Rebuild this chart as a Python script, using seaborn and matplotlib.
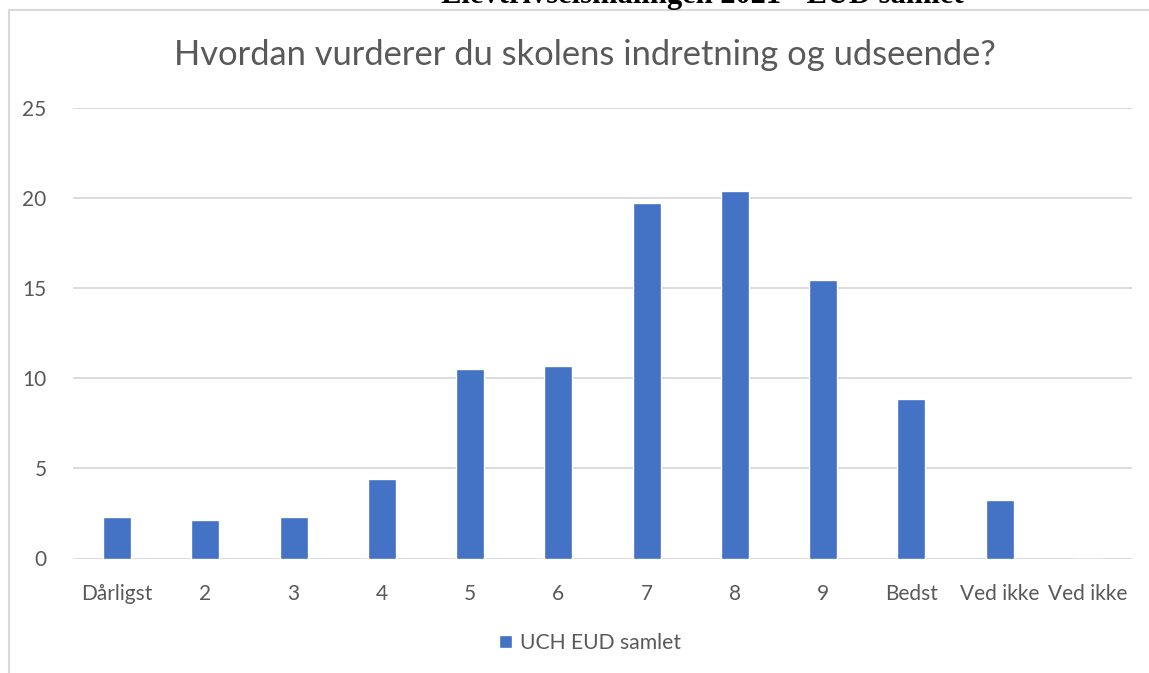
import matplotlib
matplotlib.use("Agg")
import matplotlib.pyplot as plt
from matplotlib.lines import Line2D
import seaborn as sns
import pandas as pd

labels = ["Dårligst", "2", "3", "4", "5", "6", "7", "8", "9", "Bedst", "Ved ikke", "Ved ikke"]
keys = [f"k{i}" for i in range(len(labels))]
values = [2.3, 2.13, 2.3, 4.43, 10.48, 10.65, 19.68, 20.35, 15.42, 8.83, 3.26, 0.0]
series_name = "UCH EUD samlet"
title = "Hvordan vurderer du skolens indretning og udseende?"
doc_header = "Elevtrivselsmålingen 2021 - EUD samlet"
yticks = [0, 5, 10, 15, 20, 25]

sns.set_theme(style="white")
plt.rcParams['font.family'] = ['Lato', 'DejaVu Sans']

df = pd.DataFrame({"key": keys, "value": values, "serie": series_name})

fig = plt.figure(figsize=(11.49, 6.73), dpi=100)
ax = fig.add_axes([73/1149, 1-558.5/673, (1132-73)/1149, (558.5-107.5)/673])

sns.barplot(data=df, x="key", y="value", hue="serie", order=keys,
            palette=["#4472C4"], saturation=1, width=0.317, dodge=False, ax=ax, zorder=3)

ax.set_ylim(0, 25)
ax.set_yticks(yticks)
ax.set_yticklabels([str(t) for t in yticks])
ax.set_xlim(-0.5, len(keys) - 0.5)
ax.set_xticks(range(len(keys)))
ax.set_xticklabels(labels)
ax.set_xlabel("")
ax.set_ylabel("")
for s in ax.spines.values():
    s.set_visible(False)
ax.yaxis.grid(True, color="#D9D9D9", linewidth=1.3, zorder=0)
ax.xaxis.grid(False)
ax.tick_params(axis="both", length=0, labelsize=15, colors="#595959")
ax.tick_params(axis="y", pad=19)
ax.tick_params(axis="x", pad=18)

fig.text(584.5/1149, 1-55/673, title, ha="center", va="center", fontsize=24.8, color="#595959")

sns.move_legend(ax, loc="center", bbox_to_anchor=(590/1149, 1-643/673),
                bbox_transform=fig.transFigure, frameon=False, title=None,
                handlelength=0.6, handleheight=0.6, handletextpad=0.4,
                fontsize=15.2)
for t in ax.get_legend().get_texts():
    t.set_color("#595959")

# chart frame lines
fig.add_artist(Line2D([9/1149, 9/1149], [0, 1-10/673], color="#D9D9D9", lw=1.5, transform=fig.transFigure))
fig.add_artist(Line2D([9/1149, 1], [1-10/673, 1-10/673], color="#D9D9D9", lw=1.5, transform=fig.transFigure))
# document header (clipped by the top edge as in the reference)
fig.text(702.5/1149, 1-3/673, doc_header, ha="center", va="baseline", fontsize=22,
         fontweight="bold", family=["Liberation Serif", "DejaVu Serif"], color="black")

fig.savefig("out.png", dpi=100)
